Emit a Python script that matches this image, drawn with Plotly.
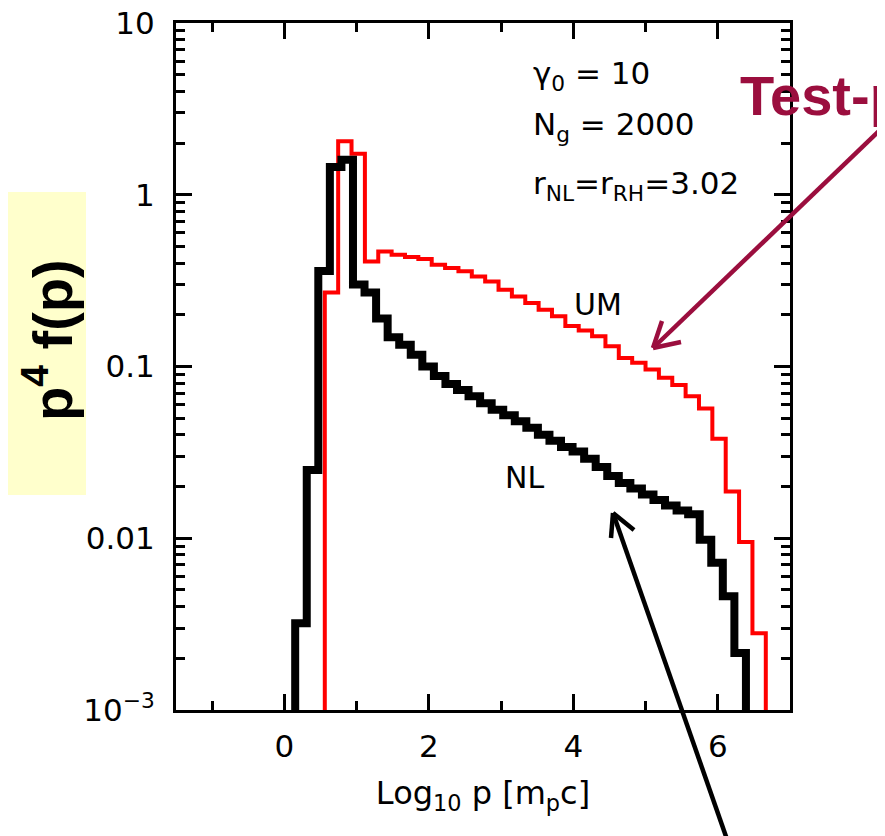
import numpy as np
import plotly.graph_objects as go

# ---------------- data ----------------
nl_start = 0.15          # log10 p of the first NL bin edge
nl_width = 0.16          # NL bin width in log10 p
nl_values = [0.0032, 0.025, 0.36, 1.45, 1.6, 0.30, 0.27, 0.19, 0.148, 0.134,
             0.117, 0.10, 0.088, 0.079, 0.073, 0.067, 0.061, 0.056, 0.052, 0.048,
             0.044, 0.040, 0.037, 0.034, 0.032, 0.029, 0.026, 0.023, 0.021, 0.0195,
             0.018, 0.0167, 0.0155, 0.0145, 0.0138, 0.0098, 0.0072, 0.0046, 0.00215]

um_start = 0.56
um_width = 0.185
um_values = [0.27, 2.05, 1.73, 0.409, 0.468, 0.447, 0.434, 0.422, 0.391, 0.374,
             0.358, 0.334, 0.313, 0.28, 0.256, 0.234, 0.214, 0.196, 0.172, 0.162,
             0.150, 0.131, 0.112, 0.105, 0.096, 0.086, 0.078, 0.067, 0.057, 0.038,
             0.0187, 0.0095, 0.0028]

x_tick_vals = [0, 2, 4, 6]
x_minor_vals = [-1, 1, 3, 5]
y_tick_vals = [1e-3, 1e-2, 1e-1, 1, 10]
y_tick_text = ["10<sup>\u22123</sup>", "0.01", "0.1", "1", "10"]
y_minor_vals = [m * 10.0 ** d for d in range(-3, 1) for m in range(2, 10)]


def steps(start, width, vals, floor=1e-4):
    edges = start + width * np.arange(len(vals) + 1)
    xs, ys = [edges[0]], [floor]
    for i, v in enumerate(vals):
        xs += [edges[i], edges[i + 1]]
        ys += [v, v]
    xs.append(edges[-1])
    ys.append(floor)
    return xs, ys


fig = go.Figure()
ux, uy = steps(um_start, um_width, um_values)
fig.add_trace(go.Scatter(x=ux, y=uy, mode="lines",
                         line=dict(color="#ff0000", width=4), showlegend=False))
nx, ny = steps(nl_start, nl_width, nl_values)
fig.add_trace(go.Scatter(x=nx, y=ny, mode="lines",
                         line=dict(color="black", width=8), showlegend=False))

# ---------------- layout ----------------
OFF = 8                     # page body margin
W, H = 885 - OFF, 836 - OFF
L, T = 176 - OFF, 23 - OFF
pw, ph = 614, 687
R, B = W - L - pw, H - T - ph


def px(xp):                 # page pixel x -> paper
    return (xp - OFF - L) / pw


def py(yp):                 # page pixel y -> paper
    return (T + ph - (yp - OFF)) / ph


font_main = "DejaVu Sans"

fig.update_layout(
    width=W, height=H,
    margin=dict(l=L, r=R, t=T, b=B, pad=0),
    paper_bgcolor="white", plot_bgcolor="white",
    font=dict(family=font_main, size=31, color="black"),
)

fig.update_xaxes(
    range=[-1.5, 7.0], showgrid=False, zeroline=False, automargin=False,
    showline=True, linewidth=3, linecolor="black", mirror="allticks",
    ticks="inside", ticklen=16, tickwidth=3, tickcolor="black",
    tickvals=x_tick_vals, ticktext=[str(v) for v in x_tick_vals],
    tickfont=dict(size=31, family=font_main), ticklabelstandoff=7,
    ticklabeloverflow="allow",
    minor=dict(tickvals=x_minor_vals, ticks="inside", ticklen=9, tickwidth=3,
               tickcolor="black"),
    title=dict(text="Log<sub>10</sub> p [m<sub>p</sub>c]",
               font=dict(size=32, family=font_main), standoff=19),
)
fig.update_yaxes(
    type="log", range=[-3, 1], showgrid=False, zeroline=False, automargin=False,
    showline=True, linewidth=3, linecolor="black", mirror="allticks",
    ticks="inside", ticklen=16, tickwidth=3, tickcolor="black",
    tickvals=y_tick_vals, ticktext=y_tick_text,
    tickfont=dict(size=31, family=font_main), ticklabelstandoff=12,
    ticklabeloverflow="allow",
    minor=dict(tickvals=y_minor_vals, ticks="inside", ticklen=9, tickwidth=2.5,
               tickcolor="black"),
)

# yellow box behind the y label
fig.add_shape(type="rect", xref="paper", yref="paper",
              x0=px(3), x1=px(86), y0=py(495), y1=py(192),
              fillcolor="#ffffcc", line=dict(width=0), layer="below")
fig.add_annotation(xref="paper", yref="paper", x=px(48), y=py(340),
                   xanchor="center", yanchor="middle",
                   text="<b>p<sup>4</sup> f(p)</b>", textangle=-90, showarrow=False,
                   font=dict(family="Liberation Sans", size=56, color="black"))

# parameter text
params = ["\u03b3<sub>0</sub> = 10", "N<sub>g</sub> = 2000",
          "r<sub>NL</sub>=r<sub>RH</sub>=3.02"]
param_y = [75, 127, 185]
for t, yy in zip(params, param_y):
    fig.add_annotation(xref="paper", yref="paper", x=px(531), y=py(yy),
                       xanchor="left", yanchor="middle", text=t, showarrow=False,
                       font=dict(family=font_main, size=31, color="black"))

fig.add_annotation(xref="paper", yref="paper", x=px(598), y=py(305), text="UM",
                   xanchor="center", yanchor="middle",
                   showarrow=False, font=dict(family=font_main, size=30))
fig.add_annotation(xref="paper", yref="paper", x=px(524), y=py(478), text="NL",
                   xanchor="center", yanchor="middle",
                   showarrow=False, font=dict(family=font_main, size=30))

crimson = "#9b0e3e"
fig.add_annotation(xref="paper", yref="paper", x=px(738), y=py(95),
                   xanchor="left", yanchor="middle", text="<b>Test-particle</b>",
                   showarrow=False,
                   font=dict(family="Liberation Sans", size=56, color=crimson))


def seg(x0, y0, x1, y1, color, width):
    fig.add_shape(type="line", xref="paper", yref="paper",
                  x0=px(x0), y0=py(y0), x1=px(x1), y1=py(y1),
                  line=dict(color=color, width=width))


# crimson arrow
seg(879, 131, 653, 348, crimson, 4.5)
seg(653, 348, 681, 342, crimson, 4.5)
seg(653, 348, 662, 321, crimson, 4.5)
# black arrow
seg(729, 845, 613, 513, "black", 4.5)
seg(613, 513, 611, 538, "black", 4.5)
seg(613, 513, 634, 530, "black", 4.5)

fig.write_html("out.html")
